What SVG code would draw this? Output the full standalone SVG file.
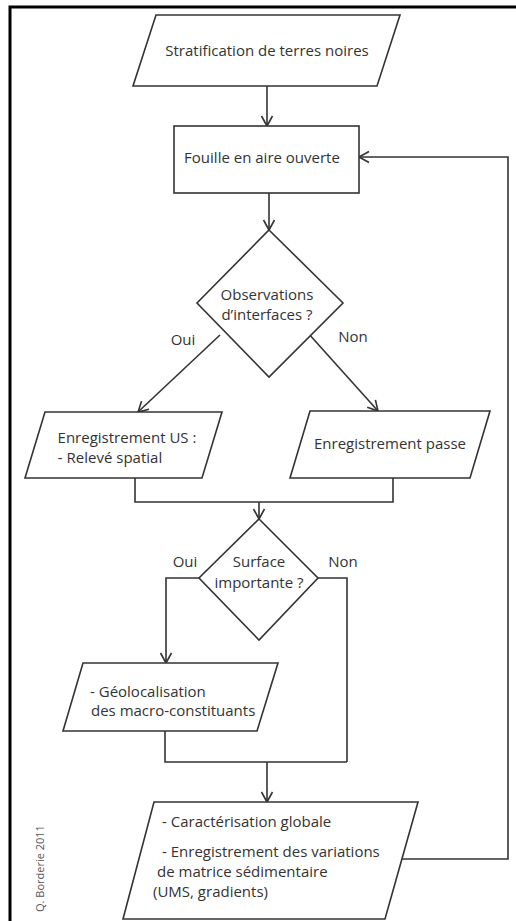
<svg xmlns="http://www.w3.org/2000/svg" width="516" height="921" viewBox="0 0 516 921">
<style>
.s{fill:#fff;stroke:#333;stroke-width:1.6;stroke-linejoin:miter}
.c{fill:none;stroke:#333;stroke-width:1.6}
.t{font-family:"Open Sans","Liberation Sans",sans-serif;font-size:15px;fill:#333}
.m{text-anchor:middle}
.cr{font-family:"Open Sans","Liberation Sans",sans-serif;font-size:11px;fill:#555}
</style>
<defs>
<marker id="ah" markerUnits="userSpaceOnUse" markerWidth="14" markerHeight="14" viewBox="0 0 14 14" refX="12" refY="7" orient="auto">
<path d="M2,1.5 L12,7 L2,12.5" fill="none" stroke="#333" stroke-width="1.6"/>
</marker>
</defs>
<rect width="516" height="921" fill="#fff"/>
<g id="frame"><path d="M10,921 V7 H516" fill="none" stroke="#000" stroke-width="3"/></g>
<g id="connectors">
<path class="c" d="M267,86 V126" marker-end="url(#ah)"/>
<path class="c" d="M269,193 V230" marker-end="url(#ah)"/>
<path class="c" d="M220,335 L138,412" marker-end="url(#ah)"/>
<path class="c" d="M308,333 L378,411" marker-end="url(#ah)"/>
<path class="c" d="M135,478 V502 H393 V478"/>
<path class="c" d="M259,502 V519" marker-end="url(#ah)"/>
<path class="c" d="M199,578 H166 V663" marker-end="url(#ah)"/>
<path class="c" d="M318,578 H347 V762"/>
<path class="c" d="M165,731 V762 H347"/>
<path class="c" d="M267,762 V802" marker-end="url(#ah)"/>
<path class="c" d="M402,859 H508 V157 H359" marker-end="url(#ah)"/>
<text class="t m" x="183" y="345">Oui</text>
<text class="t m" x="353" y="342">Non</text>
<text class="t m" x="185" y="567">Oui</text>
<text class="t m" x="343" y="567">Non</text>
</g>
<g id="n-strat">
<polygon class="s" points="156,15 400,15 377,86 133,86"/>
<text class="t m" x="267" y="56">Stratification de terres noires</text>
</g>
<g id="n-fouille">
<rect class="s" x="174" y="126" width="185" height="67"/>
<text class="t m" x="262" y="163">Fouille en aire ouverte</text>
</g>
<g id="n-obs">
<polygon class="s" points="269,230 343,303 269,377 197,303"/>
<text class="t m" x="267" y="300">Observations</text>
<text class="t m" x="267" y="320">d’interfaces ?</text>
</g>
<g id="n-us">
<polygon class="s" points="45,412 222,412 202,478 25,478"/>
<text class="t m" x="127" y="443">Enregistrement US :</text>
<text class="t m" x="110" y="463">- Relevé spatial</text>
</g>
<g id="n-passe">
<polygon class="s" points="310,411 490,411 470,478 290,478"/>
<text class="t m" x="390" y="449">Enregistrement passe</text>
</g>
<g id="n-surface">
<polygon class="s" points="259,519 318,578 259,640 199,578"/>
<text class="t m" x="259" y="567">Surface</text>
<text class="t m" x="259" y="588">importante ?</text>
</g>
<g id="n-geo">
<polygon class="s" points="83,663 278,663 257,731 63,731"/>
<text class="t" x="90" y="697">- Géolocalisation</text>
<text class="t" x="91" y="716">des macro-constituants</text>
</g>
<g id="n-carac">
<polygon class="s" points="154,802 418,802 385,919 123,919"/>
<text class="t" x="162" y="827">- Caractérisation globale</text>
<text class="t" x="162" y="857">- Enregistrement des variations</text>
<text class="t" x="157" y="877">de matrice sédimentaire</text>
<text class="t" x="153" y="897">(UMS, gradients)</text>
</g>
<g id="credit">
<text class="cr" transform="translate(44,912) rotate(-90)">Q. Borderie 2011</text>
</g>
</svg>
